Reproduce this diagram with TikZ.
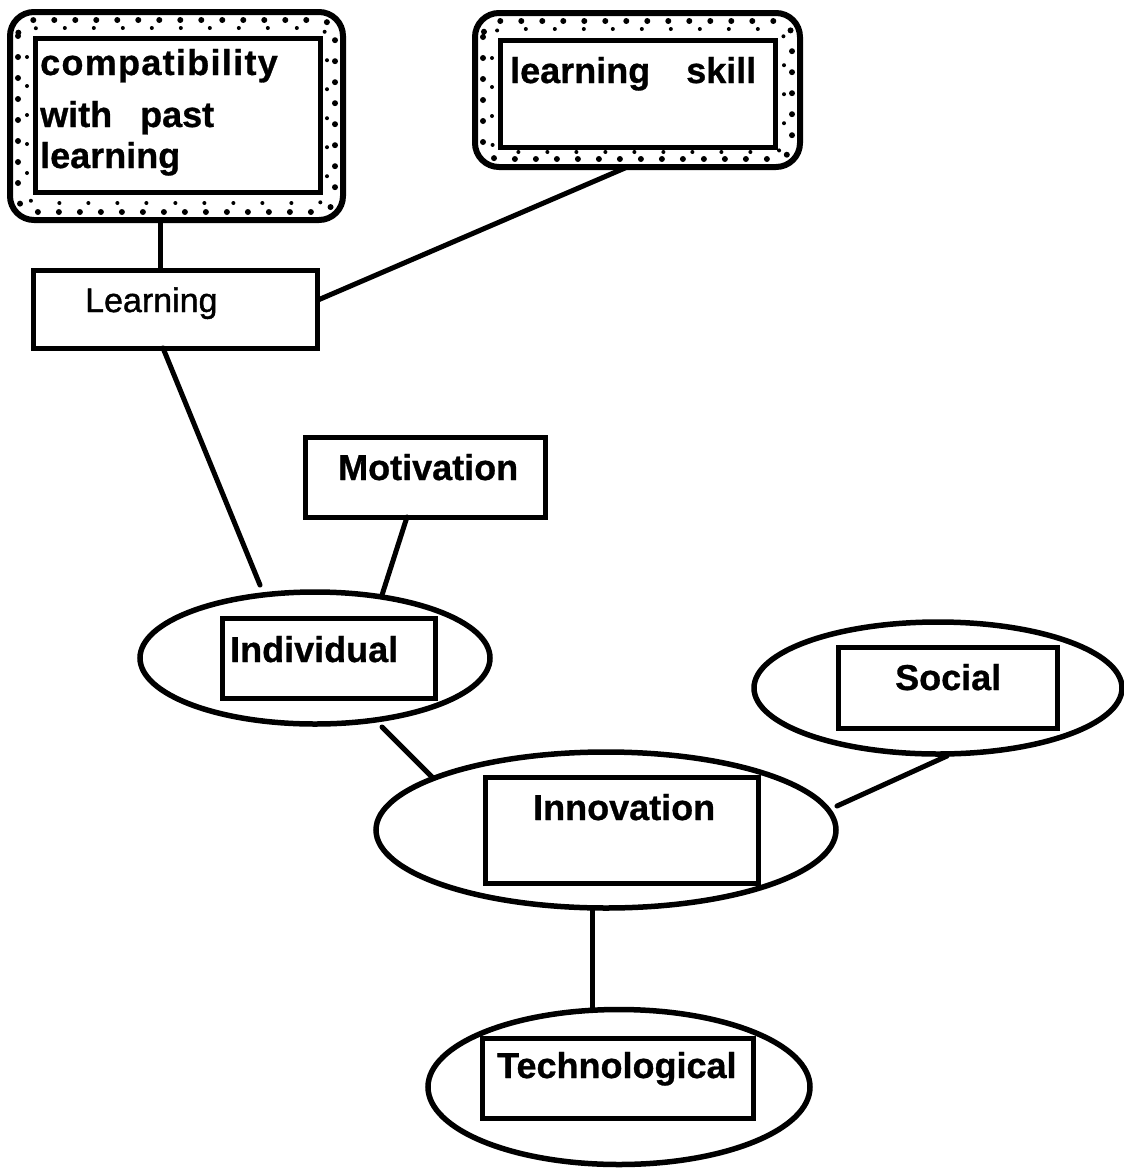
\documentclass[tikz,border=0pt]{standalone}
\usepackage{fontspec}
\setmainfont{Liberation Sans}
\usetikzlibrary{shapes.geometric,calc}
\tikzset{
  ln/.style={line width=5pt, line cap=round, line join=round},
  rbox/.style={draw, rectangle, line width=5pt, inner sep=0pt, outer sep=0pt},
  oval/.style={draw, ellipse, line width=5.5pt, inner sep=0pt, outer sep=0pt},
  frame/.style={draw, rectangle, rounded corners=24pt, line width=6pt, inner sep=0pt, outer sep=0pt},
  lbl/.style={anchor=base west, inner sep=0pt, font=\fontsize{36}{40}\selectfont\bfseries\addfontfeature{FakeBold=0.8}},
  lblreg/.style={anchor=base west, inner sep=0pt, font=\fontsize{34}{40}\selectfont\addfontfeature{FakeBold=1.2}},
  dotsA/.style={line width=6pt, line cap=round, dash pattern=on 0pt off 21pt},
  dotsB/.style={line width=4pt, line cap=round, dash pattern=on 0pt off 29pt, dash phase=10pt},
}
\begin{document}
\begin{tikzpicture}[x=1pt,y=-1pt]
\useasboundingbox (0,0) rectangle (1124,1168);

% top framed boxes
\node[frame, minimum width=333pt, minimum height=208pt] (b1o) at (176.5,116) {};
\node[rbox, minimum width=285pt, minimum height=154pt] (b1i) at (177.5,115) {};
\draw[dotsA, rounded corners=16pt] ($(b1o.north west)+(8,8)$) rectangle ($(b1o.south east)+(-8,-8)$);
\draw[dotsB, rounded corners=10pt] ($(b1o.north west)+(17,16)$) rectangle ($(b1o.south east)+(-16,-17)$);

\node[frame, minimum width=325pt, minimum height=154pt] (b2o) at (637.5,90) {};
\node[rbox, minimum width=275pt, minimum height=107pt] (b2i) at (637.5,93.5) {};
\draw[dotsA, rounded corners=16pt] ($(b2o.north west)+(8,8)$) rectangle ($(b2o.south east)+(-8,-8)$);
\draw[dotsB, rounded corners=10pt] ($(b2o.north west)+(17,16)$) rectangle ($(b2o.south east)+(-16,-15)$);

% plain boxes
\node[rbox, minimum width=284pt, minimum height=78pt] (learn) at (175,309) {};
\node[rbox, minimum width=240pt, minimum height=80pt] (mot) at (425,477) {};

% ellipses with inner boxes
\node[oval, minimum width=350pt, minimum height=132pt] (indE) at (315,658) {};
\node[rbox, minimum width=213pt, minimum height=80pt] (indR) at (328.5,658) {};

\node[oval, minimum width=368pt, minimum height=132pt] (socE) at (938,688) {};
\node[rbox, minimum width=219pt, minimum height=81pt] (socR) at (947.5,687.5) {};

\node[oval, minimum width=460pt, minimum height=156pt] (innoE) at (606,830) {};
\node[rbox, minimum width=273pt, minimum height=106pt] (innoR) at (621.5,830) {};

\node[oval, minimum width=382pt, minimum height=155pt] (techE) at (619,1087) {};
\node[rbox, minimum width=271pt, minimum height=80pt] (techR) at (617.5,1078) {};

% texts
\node[lbl] (t1) at (40,75) {\addfontfeature{LetterSpace=3.6}compatibility};
\node[lbl] (t2) at (40,127) {with \hspace{18pt}past};
\node[lbl] (t3) at (40,168) {learning};
\node[lbl] (t4) at (510,83) {learning \hspace{26pt}skill};
\node[lblreg] (t5) at (85,312) {Learning};
\node[lbl] (t6) at (338,480) {Motivation};
\node[lbl] (t7) at (230,662) {Individual};
\node[lbl] (t8) at (895,690) {Social};
\node[lbl] (t9) at (533,820) {Innovation};
\node[lbl] (t10) at (497,1078) {Technological};

% connectors
\draw[ln] ($(b1o.south)+(-16.5,0)$) -- ($(learn.north)+(-15,0)$);
\draw[ln] ($(b2o.south)+(-12.5,1)$) -- ($(learn.east)+(1,-9)$);
\draw[ln] ($(learn.south)+(-12,0)$) -- ($(indE.center)+(-55,-73)$);
\draw[ln] ($(mot.south)+(-18,0)$) -- ($(indE.center)+(67,-63)$);
\draw[ln] ($(indE.center)+(67,69)$) -- ($(innoE.center)+(-173,-52)$);
\draw[ln] ($(socE.south)+(9,2)$) -- ($(innoE.center)+(231,-24)$);
\draw[ln] ($(innoE.south)+(-14,0)$) -- ($(techE.north)+(-27,0)$);
\end{tikzpicture}
\end{document}
